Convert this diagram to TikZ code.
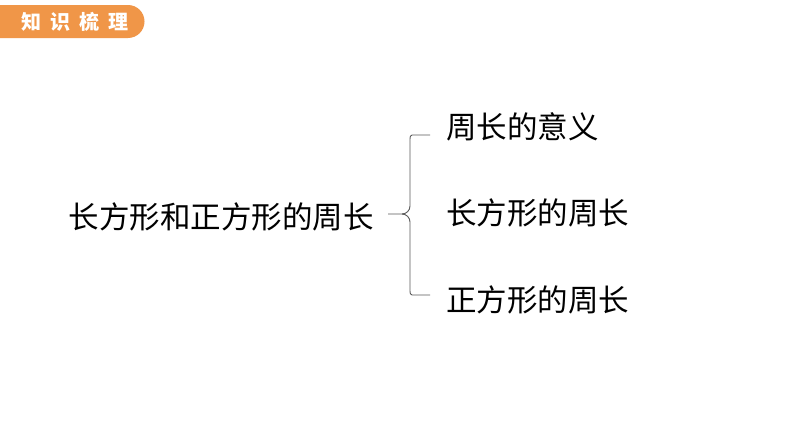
\documentclass[tikz,border=0pt]{standalone}
\usepackage{fontspec}
\newfontfamily\cjk{Noto Sans CJK SC}
\definecolor{taborange}{RGB}{240,150,72}
\definecolor{bracegray}{RGB}{90,90,90}
\begin{document}
\begin{tikzpicture}[x=1pt,y=-1pt,
  lbl/.style={inner sep=0pt,font=\cjk\fontsize{30.5}{33}\selectfont,text=black},
  bracestyle/.style={draw=bracegray,line width=0.9pt}]
\useasboundingbox (0,0) rectangle (794,447);
\fill[white] (0,0) rectangle (794,447);
% header tab
\fill[taborange] (0,5) -- (128,5) arc[start angle=-90,end angle=90,radius=16.5] -- (0,38) -- cycle;
\node[inner sep=0pt,text=white,font=\cjk\bfseries\fontsize{20}{22}\selectfont] (hdr) at (75,22) {知\hspace{9pt}识\hspace{9pt}梳\hspace{9pt}理};
% texts
\node[lbl,anchor=east] (main) at (374,217) {长方形和正方形的周长};
\node[lbl,anchor=west] (a) at (446,127) {周长的意义};
\node[lbl,anchor=west] (b) at (446,213) {长方形的周长};
\node[lbl,anchor=west] (c) at (446,300) {正方形的周长};
% brace
\coordinate (tip) at (388,214);
\coordinate (top) at (430,135);
\coordinate (bot) at (430,295);
\draw[bracestyle] (top) -- (412,135) to[out=180,in=90] (410,139) -- (410,206)
  to[out=-90,in=0] (402,214) -- (tip);
\draw[bracestyle] (bot) -- (412,295) to[out=180,in=-90] (410,291) -- (410,222)
  to[out=90,in=0] (402,214);
\end{tikzpicture}
\end{document}
